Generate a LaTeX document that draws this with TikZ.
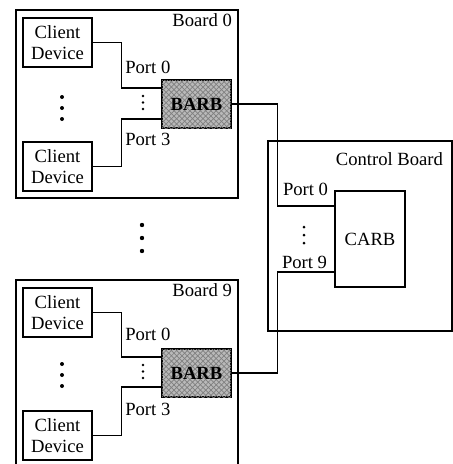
\documentclass[tikz,border=0pt]{standalone}
\usepackage{fontspec}
\setmainfont{Liberation Serif}
\usetikzlibrary{%
	calc,%
	positioning,%
	patterns,%
}
\tikzset{
	nodes={align=center, font=\fontsize{10.6}{12}\selectfont},
}

\begin{document}
\begin{tikzpicture}[x=0.02cm, y=-0.02cm, line width=0.8pt,%
		board/.style={draw, rectangle, minimum width=4.44cm, inner sep=0pt},%
		client/.style={draw, rectangle, minimum width=1.38cm, minimum height=0.98cm, inner sep=0pt},%
		barb/.style={draw, rectangle, line width=1.6pt, minimum width=1.38cm, minimum height=0.96cm, inner sep=0pt, fill=gray!55, postaction={pattern=crosshatch, pattern color=black!50}, font=\fontsize{10.6}{12}\selectfont\bfseries},%
		tag/.style={inner sep=0pt, anchor=base west}]
	\useasboundingbox (0,0) rectangle (453,464);

	% board 0
	\node[board, minimum height=3.76cm] (board0) at (127,104) {};
	\node[tag, anchor=base east] (lb0) at ($(board0.north east)+(-6,17)$) {Board 0};
	\node[client] (cd0a) at (57.5,42.5) {Client\\Device};
	\node[client] (cd0b) at (57.5,166.5) {Client\\Device};
	\node[barb] (barb0) at (196.5,104) {BARB};
	\coordinate (b0in0) at ($(barb0.west)+(0,-16)$);
	\coordinate (b0in3) at ($(barb0.west)+(0,15)$);
	\draw (cd0a.east) -- ++(29,0) |- (b0in0);
	\draw (cd0b.east) -- ++(29,0) |- (b0in3);
	\node[tag] (p00) at ($(b0in0)+(-36,-15)$) {Port 0};
	\node[tag] (p03) at ($(b0in3)+(-36,26)$) {Port 3};
	\foreach \y in {97,108,119} \fill (62,\y) circle (2);
	\foreach \y in {96,102.5,109} \fill (143,\y) circle (1.3);

	% dots between the boards
	\foreach \y in {225,238,251} \fill (142,\y) circle (2.2);

	% board 9
	\node[board, minimum height=3.84cm] (board9) at (127,376) {};
	\node[tag, anchor=base east] (lb9) at ($(board9.north east)+(-6,17)$) {Board 9};
	\node[client] (cd9a) at (57.5,312.5) {Client\\Device};
	\node[client] (cd9b) at (57.5,435.5) {Client\\Device};
	\node[barb] (barb9) at (196.5,373) {BARB};
	\coordinate (b9in0) at ($(barb9.west)+(0,-16)$);
	\coordinate (b9in3) at ($(barb9.west)+(0,14)$);
	\draw (cd9a.east) -- ++(29,0) |- (b9in0);
	\draw (cd9b.east) -- ++(29,0) |- (b9in3);
	\node[tag] (p90) at ($(b9in0)+(-36,-17)$) {Port 0};
	\node[tag] (p93) at ($(b9in3)+(-36,28)$) {Port 3};
	\foreach \y in {364,375,386} \fill (62,\y) circle (2);
	\foreach \y in {365,371.5,378} \fill (143,\y) circle (1.3);

	% control board
	\node[board, minimum width=3.68cm, minimum height=3.8cm] (ctrl) at (360,236) {};
	\node[tag, anchor=base east] (lbc) at ($(ctrl.north east)+(-9,25)$) {Control Board};
	\node[draw, rectangle, minimum width=1.4cm, minimum height=1.92cm, inner sep=0pt] (carb) at (370,239) {CARB};
	\coordinate (c0in) at ($(carb.west)+(0,-33)$);
	\coordinate (c9in) at ($(carb.west)+(0,33)$);
	\coordinate (c0turn) at ($(c0in)+(-57,0)$);
	\coordinate (c9turn) at ($(c9in)+(-57,0)$);
	\node[tag] (pc0) at ($(c0in)+(-52,-11)$) {Port 0};
	\node[tag] (pc9) at ($(c9in)+(-53,-4)$) {Port 9};
	\foreach \y in {227,235,243} \fill (304,\y) circle (1.5);

	\draw (barb0.east) -| (c0turn) -- (c0in);
	\draw (barb9.east) -| (c9turn) -- (c9in);
\end{tikzpicture}
\end{document}
